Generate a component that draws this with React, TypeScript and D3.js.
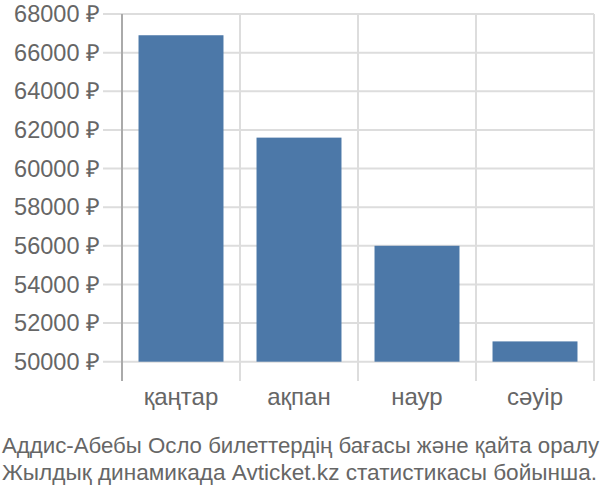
import React from "react";
import * as d3 from "d3";

const categories = ["қаңтар", "ақпан", "наур", "сәуір"];
const values = [66900, 61600, 56000, 51050];
const yTicks = [50000, 52000, 54000, 56000, 58000, 60000, 62000, 64000, 66000, 68000];
const titleLines = [
  "Аддис-Абебы Осло билеттердің бағасы және қайта оралу",
  "Жылдық динамикада Avticket.kz статистикасы бойынша.",
];
const titleWidths = [597, 595];

export default function App() {
  const W = 600, H = 500;
  const left = 122, right = 594, top = 14, bottom = 381;
  const x = d3.scaleBand<string>().domain(categories).range([left, right]).paddingInner(0.28).paddingOuter(0.14);
  const y = d3.scaleLinear().domain([49000, 68000]).range([bottom, top]);
  const font = "'Liberation Sans', Arial, sans-serif";
  const txt = "#666";
  return (
    <svg width={W} height={H} style={{ position: "absolute", left: 0, top: 0 }} fontFamily={font}>
      {yTicks.map((t) => (
        <g key={t}>
          <line x1={103} x2={right} y1={y(t)} y2={y(t)} stroke="#ddd" strokeWidth={2} />
          <text x={100} y={y(t)} dy="0.35em" textAnchor="end" fontSize={23.5} fill={txt}>
            {t} ₽
          </text>
        </g>
      ))}
      {categories.map((c, i) => (
        <line key={c} x1={left + x.step() * (i + 1)} x2={left + x.step() * (i + 1)} y1={top} y2={bottom} stroke="#ddd" strokeWidth={2} />
      ))}
      <line x1={left} x2={left} y1={top} y2={bottom} stroke="#aaa" strokeWidth={2} />
      {categories.map((c, i) => (
        <rect key={c} x={x(c)} width={x.bandwidth()} y={y(values[i])} height={y(50000) - y(values[i])} fill="#4c78a8" />
      ))}
      {categories.map((c) => (
        <text key={c} x={(x(c) as number) + x.bandwidth() / 2} y={405} textAnchor="middle" fontSize={24} fill={txt}>
          {c}
        </text>
      ))}
      {titleLines.map((l, i) => (
        <text key={i} x={2} y={453 + i * 26.5} textAnchor="start" fontSize={22.3} fill={txt}
          textLength={titleWidths[i]} lengthAdjust="spacingAndGlyphs">
          {l}
        </text>
      ))}
    </svg>
  );
}
